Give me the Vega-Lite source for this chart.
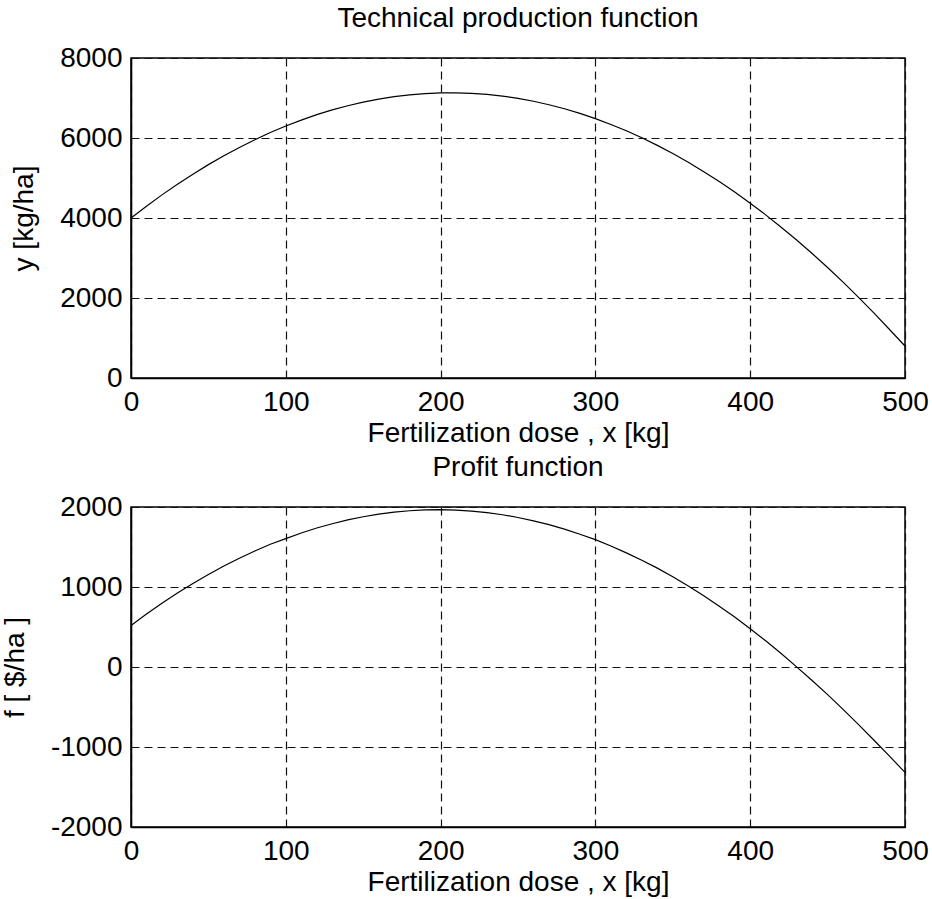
{
  "$schema": "https://vega.github.io/schema/vega-lite/v6.json",
  "background": "white",
  "padding": {"left": 0, "top": 4, "right": 7, "bottom": 1},
  "spacing": 5,
  "datasets": {
    "prod": [
      {"x": 0, "y": 4000}, {"x": 10, "y": 4296}, {"x": 20, "y": 4578}, {"x": 30, "y": 4844},
      {"x": 40, "y": 5096}, {"x": 50, "y": 5334}, {"x": 60, "y": 5556}, {"x": 70, "y": 5764},
      {"x": 80, "y": 5957}, {"x": 90, "y": 6136}, {"x": 100, "y": 6299}, {"x": 110, "y": 6448},
      {"x": 120, "y": 6583}, {"x": 130, "y": 6702}, {"x": 140, "y": 6807}, {"x": 150, "y": 6897},
      {"x": 160, "y": 6973}, {"x": 170, "y": 7034}, {"x": 180, "y": 7080}, {"x": 190, "y": 7111},
      {"x": 200, "y": 7128}, {"x": 210, "y": 7130}, {"x": 220, "y": 7117}, {"x": 230, "y": 7089},
      {"x": 240, "y": 7047}, {"x": 250, "y": 6990}, {"x": 260, "y": 6918}, {"x": 270, "y": 6832},
      {"x": 280, "y": 6731}, {"x": 290, "y": 6615}, {"x": 300, "y": 6485}, {"x": 310, "y": 6339},
      {"x": 320, "y": 6180}, {"x": 330, "y": 6005}, {"x": 340, "y": 5816}, {"x": 350, "y": 5611},
      {"x": 360, "y": 5393}, {"x": 370, "y": 5159}, {"x": 380, "y": 4911}, {"x": 390, "y": 4648},
      {"x": 400, "y": 4370}, {"x": 410, "y": 4078}, {"x": 420, "y": 3771}, {"x": 430, "y": 3450},
      {"x": 440, "y": 3113}, {"x": 450, "y": 2763}, {"x": 460, "y": 2397}, {"x": 470, "y": 2017},
      {"x": 480, "y": 1622}, {"x": 490, "y": 1213}, {"x": 500, "y": 800}
    ],
    "profit": [
      {"x": 0, "f": 520}, {"x": 10, "f": 662}, {"x": 20, "f": 797}, {"x": 30, "f": 924},
      {"x": 40, "f": 1044}, {"x": 50, "f": 1156}, {"x": 60, "f": 1262}, {"x": 70, "f": 1360},
      {"x": 80, "f": 1450}, {"x": 90, "f": 1534}, {"x": 100, "f": 1605}, {"x": 110, "f": 1675},
      {"x": 120, "f": 1737}, {"x": 130, "f": 1791}, {"x": 140, "f": 1838}, {"x": 150, "f": 1878},
      {"x": 160, "f": 1910}, {"x": 170, "f": 1935}, {"x": 180, "f": 1953}, {"x": 190, "f": 1963},
      {"x": 200, "f": 1966}, {"x": 210, "f": 1961}, {"x": 220, "f": 1949}, {"x": 230, "f": 1930},
      {"x": 240, "f": 1903}, {"x": 250, "f": 1869}, {"x": 260, "f": 1827}, {"x": 270, "f": 1779},
      {"x": 280, "f": 1723}, {"x": 290, "f": 1659}, {"x": 300, "f": 1592}, {"x": 310, "f": 1513},
      {"x": 320, "f": 1427}, {"x": 330, "f": 1335}, {"x": 340, "f": 1236}, {"x": 350, "f": 1128},
      {"x": 360, "f": 1013}, {"x": 370, "f": 890}, {"x": 380, "f": 760}, {"x": 390, "f": 624},
      {"x": 400, "f": 479}, {"x": 410, "f": 327}, {"x": 420, "f": 168}, {"x": 430, "f": 2},
      {"x": 440, "f": -168}, {"x": 450, "f": -346}, {"x": 460, "f": -530}, {"x": 470, "f": -720},
      {"x": 480, "f": -916}, {"x": 490, "f": -1115}, {"x": 500, "f": -1318}
    ]
  },
  "vconcat": [
    {
      "width": 774,
      "height": 320,
      "title": {"text": "Technical production function", "offset": 11},
      "data": {"name": "prod"},
      "mark": {"type": "line", "color": "black", "strokeWidth": 1.2},
      "encoding": {
        "x": {"field": "x", "type": "quantitative", "scale": {"domain": [0, 500], "nice": false},
              "axis": {"values": [0, 100, 200, 300, 400, 500], "title": "Fertilization dose , x [kg]"}},
        "y": {"field": "y", "type": "quantitative", "scale": {"domain": [0, 8000], "nice": false},
              "axis": {"values": [0, 2000, 4000, 6000, 8000], "title": "y [kg/ha]"}}
      }
    },
    {
      "width": 774,
      "height": 320,
      "title": {"text": "Profit function", "offset": 11},
      "data": {"name": "profit"},
      "mark": {"type": "line", "color": "black", "strokeWidth": 1.2},
      "encoding": {
        "x": {"field": "x", "type": "quantitative", "scale": {"domain": [0, 500], "nice": false},
              "axis": {"values": [0, 100, 200, 300, 400, 500], "title": "Fertilization dose , x [kg]"}},
        "y": {"field": "f", "type": "quantitative", "scale": {"domain": [-2000, 2000], "nice": false},
              "axis": {"values": [-2000, -1000, 0, 1000, 2000], "title": "f [ $/ha ]"}}
      }
    }
  ],
  "config": {
    "font": "Liberation Sans",
    "view": {"stroke": "black", "strokeWidth": 1.5},
    "axisX": {"labelPadding": 10, "titlePadding": 3},
    "axisY": {"labelPadding": 9, "titlePadding": 21},
    "axis": {
      "grid": true, "gridColor": "#111111", "gridDash": [8, 5], "gridOpacity": 1, "gridWidth": 1.2,
      "domainColor": "black", "domainWidth": 1.5, "ticks": false, "labelFlush": false,
      "labelExpr": "'' + datum.value",
      "labelFont": "Liberation Sans", "labelFontSize": 28, "labelColor": "black",
      "titleFont": "Liberation Sans", "titleFontSize": 28, "titleFontWeight": "normal", "titleColor": "black"
    },
    "title": {"font": "Liberation Sans", "fontSize": 28, "fontWeight": "normal", "color": "black"}
  }
}
